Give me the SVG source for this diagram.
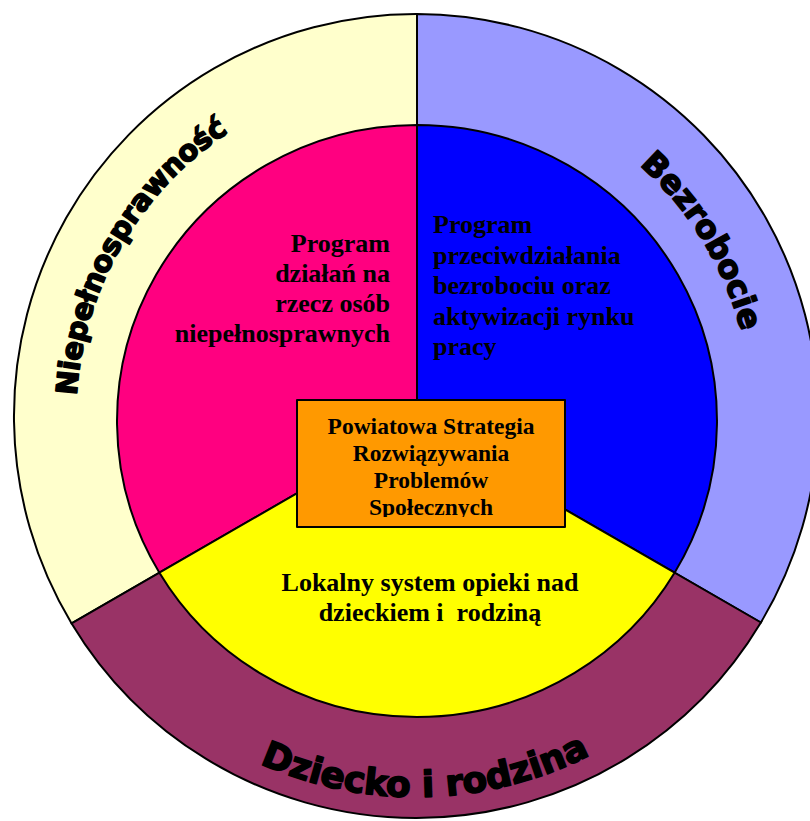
<svg xmlns="http://www.w3.org/2000/svg" width="810" height="821" viewBox="0 0 810 821">
<style>
.seg{stroke:#000;stroke-width:2;stroke-linejoin:round}
.ring{font-family:"DejaVu Sans",Roboto,sans-serif;font-weight:bold;fill:#000;stroke:#000;stroke-width:1.6;stroke-linejoin:round}
.inner{font-family:"Liberation Serif","Times New Roman",serif;font-weight:bold;font-size:26px;fill:#000}
.box{font-family:"Liberation Serif","Times New Roman",serif;font-weight:bold;font-size:23.5px;fill:#000;text-anchor:middle}
</style>
<defs>
<path id="pN" d="M121.6,586 A340,340 0 0 1 416,76"/>
<path id="pB" d="M416,80 A336,336 0 0 1 707,584"/>
<path id="pD" d="M86,606.5 A381,381 0 0 0 746,606.5"/>
<clipPath id="boxclip"><rect x="297" y="400" width="268" height="117"/></clipPath>
</defs>
<rect width="810" height="821" fill="#fff"/>
<g id="ring-niepelnosprawnosc">
<path class="seg" fill="#FFFFCC" d="M417,424 L71.6,623.4 A402,402 0 0 1 417,14 Z"/>
<text class="ring" font-size="29"><textPath href="#pN" startOffset="50%" text-anchor="middle" textLength="315" lengthAdjust="spacing">Niepełnosprawność</textPath></text>
</g>
<g id="ring-bezrobocie">
<path class="seg" fill="#9999FF" d="M417,424 L417,14 A402,402 0 0 1 760.9,622.5 Z"/>
<text class="ring" font-size="32"><textPath href="#pB" startOffset="48.8%" text-anchor="middle" textLength="198" lengthAdjust="spacing">Bezrobocie</textPath></text>
</g>
<g id="ring-dziecko">
<path class="seg" fill="#993366" d="M417,424 L760.9,622.5 A402,402 0 0 1 71.6,623.4 Z"/>
<text class="ring" font-size="36"><textPath href="#pD" startOffset="51.25%" text-anchor="middle" textLength="342" lengthAdjust="spacing">Dziecko i rodzina</textPath></text>
</g>
<g id="program-niepelnosprawni">
<path class="seg" fill="#FF0080" d="M417,424 L159.4,572.7 A300,296 0 0 1 417,125 Z"/>
<text class="inner" text-anchor="end"><tspan x="390" y="252">Program</tspan><tspan x="390" y="282">działań na</tspan><tspan x="390" y="312">rzecz osób</tspan><tspan x="390" y="342">niepełnosprawnych</tspan></text>
</g>
<g id="program-bezrobocie">
<path class="seg" fill="#0000FF" d="M417,424 L417,125 A300,296 0 0 1 674.6,572.7 Z"/>
<text class="inner"><tspan x="433" y="233">Program</tspan><tspan x="433" y="263.5">przeciwdziałania</tspan><tspan x="433" y="294">bezrobociu oraz</tspan><tspan x="433" y="324.5">aktywizacji rynku</tspan><tspan x="433" y="355">pracy</tspan></text>
</g>
<g id="system-opieki">
<path class="seg" fill="#FFFF00" d="M417,424 L674.6,572.7 A300,296 0 0 1 159.4,572.7 Z"/>
<text class="inner" text-anchor="middle" style="white-space:pre"><tspan x="430" y="591">Lokalny system opieki nad</tspan><tspan x="430" y="621">dzieckiem i  rodziną</tspan></text>
</g>
<g id="strategia">
<rect class="seg" x="297" y="400" width="268" height="127" fill="#FF9900"/>
<text class="box" clip-path="url(#boxclip)"><tspan x="431" y="434">Powiatowa Strategia</tspan><tspan x="431" y="461">Rozwiązywania</tspan><tspan x="431" y="488">Problemów</tspan><tspan x="431" y="515">Społecznych</tspan></text>
</g>
<g id="connectors"></g>
</svg>
